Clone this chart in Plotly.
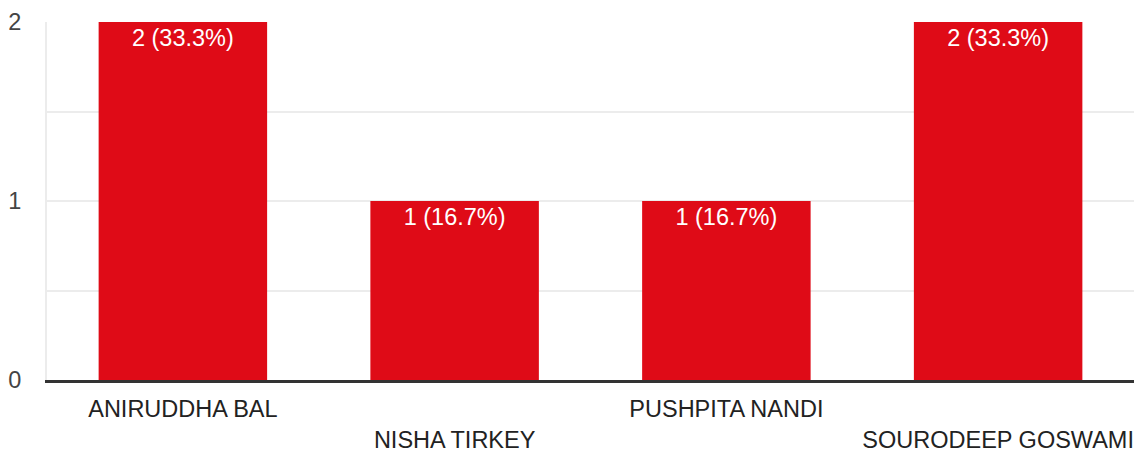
import plotly.graph_objects as go

categories = ["ANIRUDDHA BAL", "NISHA TIRKEY", "PUSHPITA NANDI", "SOURODEEP GOSWAMI"]
counts = [2, 1, 1, 2]
percents = [33.3, 16.7, 16.7, 33.3]
y_ticks = [0, 1, 2]

labels = [f"{c} ({p}%)" for c, p in zip(counts, percents)]
ticktext = [c if i % 2 == 0 else " <br>" + c for i, c in enumerate(categories)]

fig = go.Figure(go.Bar(
    x=categories, y=counts, text=labels,
    textposition="inside", insidetextanchor="end",
    textfont=dict(color="white", size=23.5, family="Arial"),
    marker=dict(color="#df0b17", line=dict(width=0)),
    width=0.62, constraintext="none", cliponaxis=False,
))

fig.update_layout(
    width=1134, height=452,
    margin=dict(l=47, r=0, t=22, b=72, autoexpand=False),
    paper_bgcolor="white", plot_bgcolor="white",
    font=dict(family="Arial", size=23.5, color="#333333"),
    showlegend=False,
    xaxis=dict(
        tickmode="array", tickvals=categories, ticktext=ticktext,
        showline=True, linecolor="#333333", linewidth=3,
        showgrid=False, ticks="", tickangle=0, automargin=False,
        ticklabelstandoff=6,
        tickfont=dict(size=23.5, color="#222222"),
    ),
    yaxis=dict(
        range=[0, 2], tickmode="array", tickvals=y_ticks,
        showgrid=True, gridcolor="#ececec", gridwidth=2,
        minor=dict(dtick=0.5, showgrid=True, gridcolor="#ececec", gridwidth=2),
        showline=True, linecolor="#ececec", linewidth=2,
        zeroline=False, ticks="", ticklabelstandoff=19, automargin=False,
        tickfont=dict(size=23.5, color="#444444"),
    ),
)

fig.write_html(
    "out.html",
    config={"displayModeBar": False},
    post_script="document.body.style.margin='0';document.body.style.overflow='hidden';",
)
